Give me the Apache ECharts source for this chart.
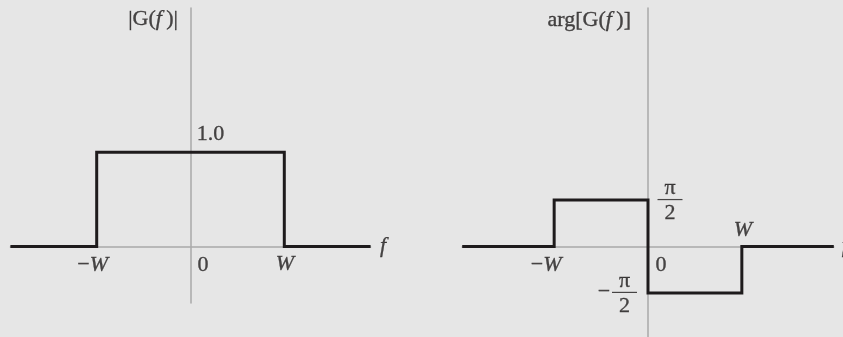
<!DOCTYPE html>
<html>
<head>
<meta charset="utf-8">
<script src="https://cdn.jsdelivr.net/npm/echarts@6/dist/echarts.min.js"></script>
<style>
  html, body { margin: 0; padding: 0; background: #e6e6e6; }
  #chart { width: 843px; height: 337px; }
</style>
</head>
<body>
<div id="chart"></div>
<script>
const HALF_PI = Math.PI / 2;

// Frequency is expressed in units of the bandwidth W.
// Magnitude response |G(f)| of the ideal band-limited filter
const magFreq  = [-1.92, -1, -1, 1, 1, 1.92];
const magValue = [0, 0, 1.0, 1.0, 0, 0];

// Phase response arg[G(f)]
const phaseFreq  = [-1.98, -1, -1, 0, 0, 1, 1, 1.98];
const phaseValue = [0, 0, HALF_PI, HALF_PI, -HALF_PI, -HALF_PI, 0, 0];

// Tick labels
const freqTickValues = [-1, 0, 1];
const freqTickLabels = ['−W', '0', 'W'];
const magLevelValue = 1.0;
const magLevelLabel = '1.0';
const phaseLevelValues = [HALF_PI, -HALF_PI];
const phaseLevelLabels = ['π/2', '−π/2'];
const axisTitles = ['|G(f)|', 'arg[G(f)]'];
const freqAxisName = 'f';

// Visible axis extents
const magXRange = [-1.92, 1.92];
const magYRange = [-0.6, 2.53];
const phaseXRange = [-1.98, 1.98];
const phaseYRange = [-3.063, 8.07];

const FONT = '"Liberation Serif", "Times New Roman", serif';
const INK = '#1e1b1c';
const AXIS_GRAY = '#a9a9a9';
const FS = 22;

// Slight stroke to give the serif glyphs a print-like weight
const inkStroke = { textBorderColor: INK, textBorderWidth: 0.35 };

const rich = {
  i:   Object.assign({ fontFamily: FONT, fontSize: FS, fontStyle: 'italic', color: INK }, inkStroke),
  n:   Object.assign({ fontFamily: FONT, fontSize: FS, color: INK, lineHeight: 22 }, inkStroke),
  d:   Object.assign({ fontFamily: FONT, fontSize: FS, color: INK, lineHeight: 26 }, inkStroke),
  bar: { fontSize: 1, lineHeight: 1, height: 1.2, width: 25, backgroundColor: INK }
};

// Italic variables inside math-style labels
function math(s) {
  return s.replace(/[Wf]/g, m => '{i|' + m + '}').replace('{i|f})', '{i|f}\u2009)');
}

// Stacked fraction p/q drawn as numerator, rule, denominator
function fraction(s) {
  const parts = s.replace('−', '').split('/');
  return '{n|' + parts[0] + '}\n{bar| }\n{d|' + parts[1] + '}';
}

function ann(x, y, text, offset, align, vAlign) {
  return {
    value: [x, y],
    label: Object.assign({
      show: true,
      position: 'inside',
      formatter: text,
      offset: offset,
      align: align || 'center',
      verticalAlign: vAlign || 'middle',
      fontFamily: FONT,
      fontSize: FS,
      color: INK,
      rich: rich
    }, inkStroke)
  };
}

const pairs = (xs, ys) => xs.map((x, k) => [x, ys[k]]);

// Annotations of the magnitude panel
const magTickOffsets = [[-4, 18.5], [12.5, 18.5], [0.5, 18]];
const magAnn = freqTickValues.map((v, k) => ann(v, 0, math(freqTickLabels[k]), magTickOffsets[k]));
magAnn.push(ann(0, magLevelValue, magLevelLabel, [20, -17.5]));
magAnn.push(ann(0, magYRange[1], math(axisTitles[0]), [-12.5, 11.5], 'right'));
magAnn.push(ann(magXRange[1], 0, math(freqAxisName), [12.5, 0]));

// Annotations of the phase panel
const phaseTickOffsets = [[-8, 18.5], [13, 18.5], [1, -16]];
const phaseAnn = freqTickValues.map((v, k) => ann(v, 0, math(freqTickLabels[k]), phaseTickOffsets[k]));
const fracOffsets = [[22, -23], [-23.5, -23]];
phaseLevelValues.forEach((v, k) => {
  phaseAnn.push(ann(0, v, fraction(phaseLevelLabels[k]), fracOffsets[k], 'center', 'top'));
  if (phaseLevelLabels[k].startsWith('−')) {
    phaseAnn.push(ann(0, v, '−', [-44, -1]));
  }
});
phaseAnn.push(ann(0, phaseYRange[1], math(axisTitles[1]), [-17, 12.5], 'right'));
phaseAnn.push(ann(phaseXRange[1], 0, math(freqAxisName), [11, 0]));

function xAxisOf(gridIndex, range) {
  return {
    type: 'value', gridIndex, min: range[0], max: range[1],
    axisLine: { show: true, onZero: true, lineStyle: { color: AXIS_GRAY, width: 1.5 } },
    axisTick: { show: false }, axisLabel: { show: false }, splitLine: { show: false }
  };
}
function yAxisOf(gridIndex, range) {
  return {
    type: 'value', gridIndex, min: range[0], max: range[1],
    axisLine: { show: true, onZero: true, lineStyle: { color: AXIS_GRAY, width: 1.5 } },
    axisTick: { show: false }, axisLabel: { show: false }, splitLine: { show: false }
  };
}

const stepLine = (xi, yi, data) => ({
  type: 'line', xAxisIndex: xi, yAxisIndex: yi, data,
  symbol: 'none', animation: false, silent: true, z: 3,
  lineStyle: { color: INK, width: 3, cap: 'butt', join: 'miter' }
});

const annSeries = (xi, yi, data) => ({
  type: 'scatter', xAxisIndex: xi, yAxisIndex: yi, data,
  symbolSize: 1, itemStyle: { color: 'rgba(0,0,0,0)' },
  clip: false, silent: true, animation: false, z: 4
});

const chart = echarts.init(document.getElementById('chart'), null, { renderer: 'canvas' });
chart.setOption({
  backgroundColor: '#e6e6e6',
  animation: false,
  grid: [
    { left: 10.4, width: 360.2, top: 8, height: 295 },
    { left: 462.2, width: 371.6, top: 8, height: 329 }
  ],
  xAxis: [xAxisOf(0, magXRange), xAxisOf(1, phaseXRange)],
  yAxis: [yAxisOf(0, magYRange), yAxisOf(1, phaseYRange)],
  series: [
    stepLine(0, 0, pairs(magFreq, magValue)),
    stepLine(1, 1, pairs(phaseFreq, phaseValue)),
    annSeries(0, 0, magAnn),
    annSeries(1, 1, phaseAnn)
  ]
});
</script>
</body>
</html>
